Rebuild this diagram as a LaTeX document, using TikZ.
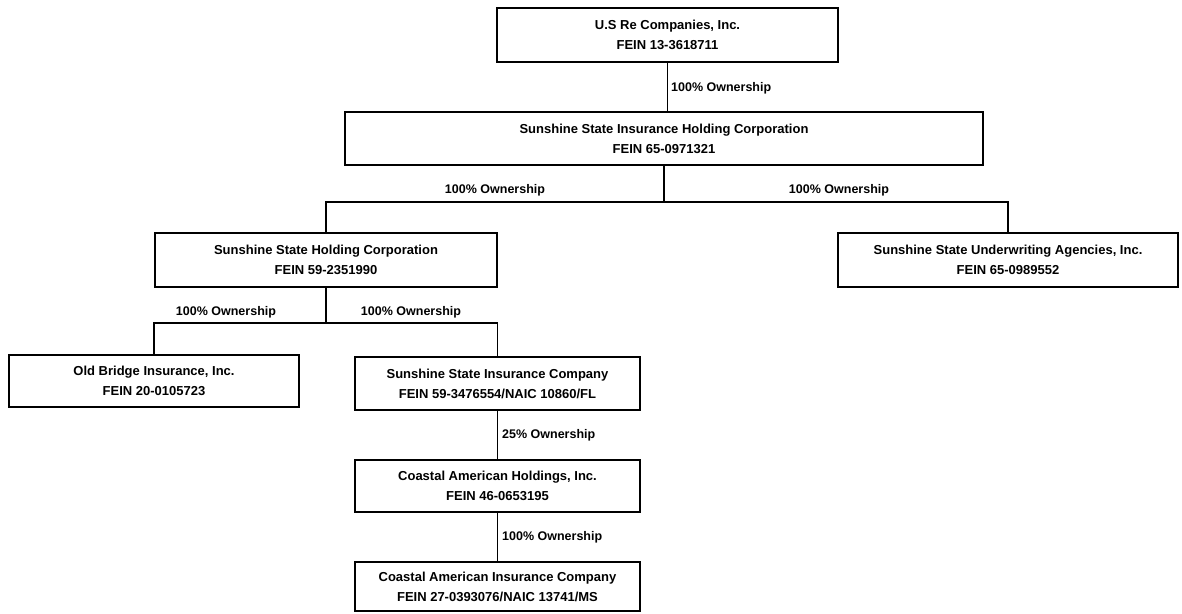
\documentclass[tikz,border=0pt]{standalone}
\usepackage{fontspec}
\setmainfont{Liberation Sans}
\begin{document}
\begin{tikzpicture}[x=1pt, y=-1pt,
        company/.style={draw, line width=2pt, rectangle, align=center, inner sep=0pt, font=\bfseries\fontsize{13}{20}\selectfont},
        share/.style={font=\bfseries\fontsize{12.5}{14}\selectfont, inner sep=0pt},
        link/.style={line width=1.8pt}]
            \useasboundingbox (0,0) rectangle (1182,613);
            % companies
            \node[company, minimum width=341pt, minimum height=54pt] (usre) at (667.5,35) {U.S Re Companies, Inc.\\FEIN 13-3618711};
            \node[company, minimum width=638pt, minimum height=53pt] (ssihc) at (664,138.5) {Sunshine State Insurance Holding Corporation\\FEIN 65-0971321};
            \node[company, minimum width=342pt, minimum height=54pt] (sshc) at (326,260) {Sunshine State Holding Corporation\\FEIN 59-2351990};
            \node[company, minimum width=340pt, minimum height=54pt] (ssua) at (1008,260) {Sunshine State Underwriting Agencies, Inc.\\FEIN 65-0989552};
            \node[company, minimum width=290pt, minimum height=52pt] (obi) at (154,381) {Old Bridge Insurance, Inc.\\FEIN 20-0105723};
            \node[company, minimum width=285pt, minimum height=53pt] (ssic) at (497.5,383.5) {Sunshine State Insurance Company\\FEIN 59-3476554/NAIC 10860/FL};
            \node[company, minimum width=285pt, minimum height=52pt] (cah) at (497.5,486) {Coastal American Holdings, Inc.\\FEIN 46-0653195};
            \node[company, minimum width=285pt, minimum height=49pt] (caic) at (497.5,586.5) {Coastal American Insurance Company\\FEIN 27-0393076/NAIC 13741/MS};
            % straight links
            \draw[link] (usre.south) -- (usre.south |- ssihc.north);
            \foreach \x/\y in {ssic/cah, cah/caic}
                {
                    \draw[link] (\x) -- (\y);
                }
            % branching links
            \foreach \x/\y/\d in {ssihc/sshc/36, ssihc/ssua/36, sshc/obi/35, sshc/ssic/35}
                {
                    \draw[link] (\x.south) -- ++(0,\d) -| (\y.north);
                }
            % ownership labels
            \node[share, anchor=west] (own1) at (671,88) {100\% Ownership};
            \node[share] (own2) at (495,190) {100\% Ownership};
            \node[share] (own3) at (839,190) {100\% Ownership};
            \node[share] (own4) at (226,312) {100\% Ownership};
            \node[share] (own5) at (411,312) {100\% Ownership};
            \node[share, anchor=west] (own6) at (502,435) {25\% Ownership};
            \node[share, anchor=west] (own7) at (502,537) {100\% Ownership};
        \end{tikzpicture}
\end{document}
